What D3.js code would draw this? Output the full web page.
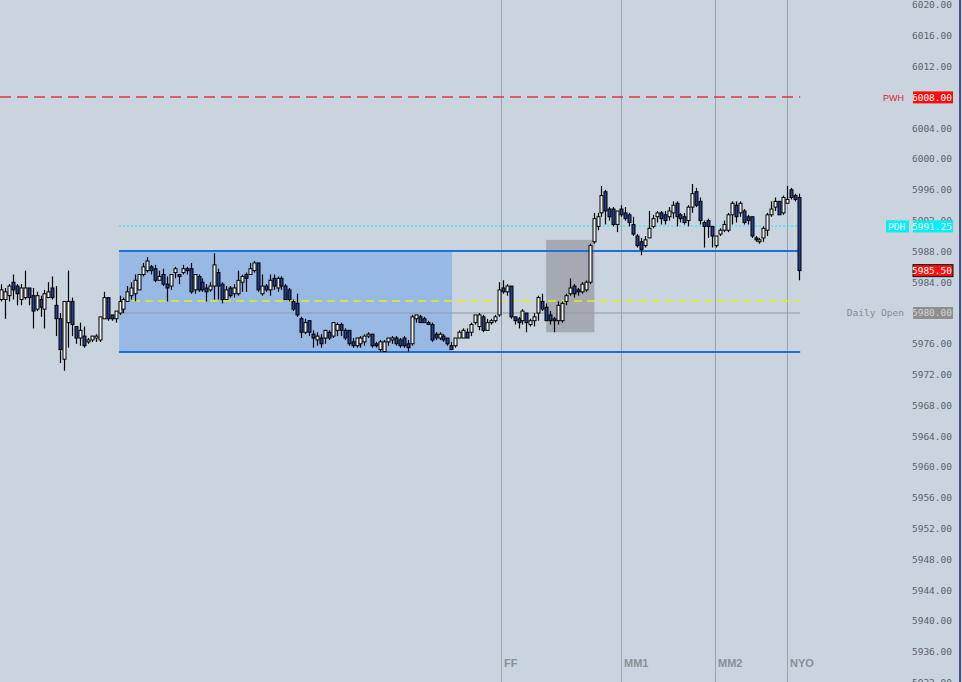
<!DOCTYPE html>
<html><head><meta charset="utf-8">
<script src="https://cdn.jsdelivr.net/npm/d3@7"></script>
<style>html,body{margin:0;padding:0;background:#c9d4de;overflow:hidden}svg{display:block}</style>
</head><body><svg id="chart" width="962" height="682"></svg>
<script>
// ---- data ----
// [open, high, low, close]
const candles = [
[5981.75,5983.75,5981.5,5983.0],[5981.75,5983.25,5979.25,5982.75],[5982.25,5983.75,5981.5,5983.5],[5984.0,5985.0,5981.75,5983.0],
[5983.5,5983.75,5981.0,5982.5],[5981.75,5983.75,5981.0,5983.25],[5982.0,5985.5,5981.75,5983.25],[5983.25,5983.25,5981.0,5982.0],
[5982.25,5983.25,5978.0,5980.25],[5980.5,5982.75,5980.25,5982.25],[5981.75,5982.25,5979.5,5980.75],[5980.5,5983.0,5978.0,5982.5],
[5982.0,5984.0,5982.0,5982.75],[5983.25,5984.75,5981.75,5982.0],[5981.0,5983.5,5977.0,5979.25],[5979.25,5980.0,5973.5,5975.25],
[5974.0,5981.5,5972.5,5981.5],[5978.75,5985.5,5975.5,5981.5],[5981.5,5982.0,5977.0,5978.5],[5978.25,5978.25,5976.0,5976.75],
[5976.75,5978.75,5975.75,5977.75],[5977.0,5978.25,5975.5,5975.75],[5976.25,5976.75,5976.0,5976.5],[5976.5,5977.0,5976.25,5977.0],
[5976.75,5977.25,5976.25,5977.0],[5976.5,5979.5,5976.25,5979.5],[5979.25,5982.75,5979.25,5982.0],[5982.0,5982.0,5979.0,5979.25],
[5979.75,5979.75,5979.0,5979.25],[5979.25,5980.25,5978.75,5980.25],[5980.0,5982.25,5979.75,5981.5],[5980.5,5982.0,5980.0,5981.75],
[5981.5,5983.5,5981.5,5982.75],[5982.25,5984.0,5981.75,5983.25],[5982.5,5985.0,5981.5,5984.25],[5983.0,5985.0,5983.0,5985.0],
[5985.0,5986.5,5984.75,5986.0],[5985.5,5987.25,5985.25,5986.75],[5986.0,5986.25,5985.0,5985.5],[5985.75,5986.25,5984.0,5984.25],
[5984.25,5985.5,5984.25,5984.75],[5985.0,5985.75,5983.5,5983.75],[5983.75,5984.75,5981.5,5983.25],[5983.5,5985.0,5983.0,5985.0],
[5985.25,5986.0,5984.5,5985.75],[5985.0,5985.0,5983.75,5984.75],[5985.25,5986.25,5985.0,5985.75],[5985.75,5986.0,5985.0,5985.5],
[5985.75,5986.5,5982.5,5982.75],[5983.0,5985.0,5982.5,5985.0],[5984.75,5985.0,5982.75,5983.0],[5984.0,5984.5,5982.75,5983.0],
[5983.25,5983.75,5981.5,5982.75],[5983.0,5984.0,5982.75,5983.5],[5983.5,5987.75,5981.75,5986.25],[5985.25,5985.75,5981.75,5983.5],
[5983.75,5984.0,5981.25,5981.75],[5981.75,5983.5,5981.75,5983.0],[5983.25,5983.5,5982.0,5982.25],[5982.5,5983.75,5982.0,5983.25],
[5982.5,5985.5,5982.25,5984.25],[5984.0,5985.0,5982.75,5984.75],[5985.0,5985.25,5982.75,5984.5],[5985.0,5986.5,5985.0,5985.75],
[5985.5,5986.75,5985.25,5986.5],[5986.5,5986.5,5982.75,5983.0],[5982.5,5985.0,5982.25,5983.5],[5983.5,5983.75,5982.75,5983.0],
[5983.0,5985.0,5982.25,5984.25],[5984.5,5985.0,5983.0,5983.5],[5983.25,5984.75,5982.75,5984.5],[5984.5,5984.75,5983.0,5983.5],
[5983.5,5983.75,5981.75,5981.75],[5983.0,5983.25,5981.5,5981.75],[5981.5,5981.75,5980.25,5980.5],[5981.25,5982.5,5979.5,5979.75],
[5979.25,5979.5,5976.75,5977.5],[5977.5,5979.25,5977.25,5978.75],[5979.0,5979.0,5977.0,5977.5],[5977.25,5977.75,5975.5,5976.75],
[5976.5,5977.5,5975.75,5977.0],[5976.75,5977.25,5975.5,5976.0],[5976.75,5977.75,5976.0,5977.75],[5977.5,5977.75,5976.5,5976.75],
[5977.0,5978.75,5976.75,5978.75],[5977.75,5978.75,5977.0,5978.5],[5978.5,5978.75,5977.0,5977.75],[5977.75,5978.0,5976.5,5976.75],
[5977.75,5977.75,5975.75,5976.0],[5976.25,5976.75,5975.5,5975.75],[5975.75,5976.75,5975.5,5976.75],[5976.0,5977.0,5975.5,5976.75],
[5976.25,5977.25,5975.75,5977.0],[5977.0,5977.5,5976.75,5977.25],[5977.25,5977.25,5975.5,5975.75],[5976.0,5976.25,5975.5,5975.75],
[5975.25,5976.5,5975.0,5976.25],[5975.0,5976.5,5975.0,5976.25],[5976.25,5976.75,5975.75,5976.75],[5976.5,5977.0,5976.0,5976.75],
[5976.75,5977.0,5975.75,5976.0],[5976.5,5976.75,5975.5,5975.75],[5976.75,5977.0,5975.5,5975.75],[5976.0,5976.5,5975.0,5975.5],
[5976.0,5979.75,5975.75,5979.5],[5979.25,5979.75,5978.75,5979.75],[5979.5,5979.75,5978.75,5978.75],[5979.25,5979.5,5978.75,5978.75],
[5978.75,5979.0,5978.5,5978.5],[5978.5,5978.75,5976.25,5976.5],[5977.25,5977.5,5976.5,5976.75],[5976.75,5977.5,5976.5,5977.25],
[5977.0,5977.25,5976.25,5976.5],[5976.75,5976.75,5975.75,5976.0],[5975.75,5976.25,5975.25,5975.25],[5975.75,5976.75,5975.5,5976.75],
[5976.75,5977.75,5976.75,5977.5],[5976.75,5978.0,5976.75,5977.75],[5977.5,5978.0,5976.75,5976.75],[5977.5,5978.75,5977.0,5978.5],
[5978.75,5979.75,5978.5,5979.75],[5978.25,5980.0,5977.75,5979.75],[5979.5,5979.75,5977.5,5977.75],[5977.75,5979.25,5977.75,5978.75],
[5978.75,5979.25,5978.5,5979.0],[5979.0,5979.75,5978.75,5979.5],[5979.75,5984.0,5979.5,5983.0],[5983.25,5984.25,5982.5,5982.75],
[5982.75,5983.75,5982.25,5983.5],[5983.5,5983.5,5979.25,5979.5],[5979.5,5979.5,5978.5,5979.0],[5979.25,5979.5,5978.0,5978.75],
[5979.0,5980.5,5978.5,5980.25],[5980.0,5980.0,5977.5,5978.75],[5978.5,5979.25,5978.25,5979.0],[5979.0,5980.0,5978.25,5979.5],
[5980.0,5982.25,5979.0,5982.0],[5981.5,5982.5,5980.25,5980.5],[5980.75,5981.25,5979.0,5979.0],[5979.75,5980.25,5978.5,5979.0],
[5979.25,5979.5,5977.5,5979.0],[5979.0,5981.5,5978.5,5981.0],[5979.0,5981.5,5978.75,5981.25],[5981.5,5982.5,5981.0,5982.25],
[5982.5,5984.5,5982.25,5983.25],[5983.5,5983.75,5982.0,5982.5],[5983.0,5983.25,5982.25,5982.75],[5982.75,5984.0,5982.5,5983.75],
[5983.0,5984.25,5982.75,5984.0],[5984.0,5989.0,5983.75,5988.75],[5989.25,5993.0,5989.0,5992.25],[5991.25,5993.0,5990.75,5992.5],
[5993.0,5996.5,5992.5,5995.25],[5995.75,5996.0,5991.5,5993.25],[5993.5,5993.75,5992.0,5992.5],[5993.5,5993.75,5991.25,5991.5],
[5991.5,5993.25,5990.5,5993.25],[5993.5,5994.0,5992.5,5992.75],[5993.0,5993.75,5992.0,5992.25],[5992.75,5993.0,5991.25,5991.75],
[5991.5,5992.5,5990.0,5990.25],[5990.0,5990.25,5988.5,5988.75],[5989.25,5989.75,5987.5,5988.25],[5988.75,5990.0,5988.5,5989.5],
[5989.75,5993.25,5989.75,5991.0],[5991.25,5992.75,5991.0,5992.25],[5992.5,5993.25,5991.75,5993.0],[5993.0,5993.25,5991.5,5992.25],
[5992.75,5993.25,5991.5,5992.0],[5992.5,5993.75,5992.0,5993.25],[5993.0,5994.5,5992.25,5994.0],[5994.25,5994.5,5991.25,5992.5],
[5992.75,5993.0,5991.75,5992.25],[5992.5,5993.0,5991.5,5991.75],[5992.0,5994.0,5991.25,5993.75],[5993.75,5996.75,5993.0,5995.5],
[5995.75,5996.25,5993.75,5994.0],[5994.5,5995.0,5991.5,5992.0],[5991.75,5992.0,5988.5,5991.25],[5992.0,5992.25,5989.75,5991.25],
[5991.25,5991.25,5988.5,5990.0],[5988.75,5990.0,5988.5,5990.0],[5990.25,5991.0,5990.0,5990.75],[5990.75,5992.0,5990.5,5991.5],
[5990.75,5993.0,5990.5,5992.75],[5992.75,5994.5,5991.5,5994.25],[5994.0,5994.5,5991.75,5992.5],[5993.0,5994.5,5992.5,5994.25],
[5993.25,5993.5,5991.5,5991.75],[5992.5,5992.75,5991.5,5992.0],[5992.5,5992.5,5989.75,5990.0],[5989.75,5990.0,5989.25,5989.5],
[5989.25,5989.75,5989.0,5989.5],[5989.75,5991.25,5989.25,5991.0],[5990.75,5993.0,5990.0,5992.75],[5992.75,5994.5,5992.5,5993.5],
[5993.75,5995.0,5993.25,5994.5],[5994.5,5994.5,5992.75,5992.75],[5993.0,5995.25,5992.75,5995.0],[5994.25,5996.5,5994.25,5994.75],
[5996.0,5996.25,5994.75,5995.0],[5995.25,5995.5,5994.5,5994.75],[5995.0,5995.5,5984.25,5985.5]
];
const priceTicks = [5932,5936,5940,5944,5948,5952,5956,5960,5964,5968,5972,5976,5980,5984,5988,5992,5996,6000,6004,6008,6012,6016,6020];
const sessionNames = ["FF","MM1","MM2","NYO"];
const sessionBars = [126.6,157.0,180.8,199.0];
const rangeBox = {start:29.9, end:114.2, high:5988.0, low:5975.0};
const fvgBox = {start:138.0, end:150.2, high:5989.5, low:5977.5};
const pwh = 6008.00, pdh = 5991.25, dailyOpen = 5980.00, midLevel = 5981.5, lastPrice = 5985.50;
const levelsEnd = 202.3;

// ---- scales ----
const svg = d3.select("#chart");
const x = d3.scaleLinear().domain([0, candles.length-1]).range([1, 799]);
const y = d3.scaleLinear().domain([5932, 6020]).range([682.6, 5]);
const mono = "'DejaVu Sans Mono', monospace";

svg.append("rect").attr("width",962).attr("height",682).attr("fill","#c9d4de");

// range box
svg.append("rect").attr("x",x(rangeBox.start)).attr("y",y(rangeBox.high))
  .attr("width",x(rangeBox.end)-x(rangeBox.start)).attr("height",y(rangeBox.low)-y(rangeBox.high))
  .attr("fill","#97b9e4");
// fvg grey box
svg.append("rect").attr("x",x(fvgBox.start)).attr("y",y(fvgBox.high))
  .attr("width",x(fvgBox.end)-x(fvgBox.start)).attr("height",y(fvgBox.low)-y(fvgBox.high))
  .attr("fill","#a5aab2");

// session vertical lines
svg.selectAll("line.sess").data(sessionBars).enter().append("line")
  .attr("x1",d=>Math.round(x(d))+0.5).attr("x2",d=>Math.round(x(d))+0.5).attr("y1",0).attr("y2",682)
  .attr("stroke","#9aa4ae").attr("stroke-width",1);
svg.selectAll("text.sess").data(sessionNames).enter().append("text")
  .attr("x",(d,i)=>Math.round(x(sessionBars[i]))+3).attr("y",667)
  .attr("font-family","'Liberation Sans', Arial, sans-serif").attr("font-size",11).attr("font-weight","bold")
  .attr("fill","#8a9098").text(d=>d);

// horizontal levels
function hline(v, x0, stroke, w, dash){
  svg.append("line").attr("x1",x0).attr("x2",x(levelsEnd)).attr("y1",Math.round(y(v))).attr("y2",Math.round(y(v)))
    .attr("stroke",stroke).attr("stroke-width",w).attr("stroke-dasharray",dash||null);
}
hline(pwh, 0, "#e0343e", 1.4, "11,6");
hline(dailyOpen, x(rangeBox.start), "#8f99a4", 1);
hline(pdh, x(rangeBox.start), "#00f2fa", 1.2, "2,2");
hline(midLevel, x(rangeBox.start), "#eaec10", 1.6, "8,5");
hline(rangeBox.high, x(rangeBox.start), "#1f6fd8", 2);
hline(rangeBox.low, x(rangeBox.start), "#1f6fd8", 2);

// candles
const g = svg.append("g");
g.selectAll("line.wick").data(candles).enter().append("line")
  .attr("x1",(d,i)=>Math.round(x(i))+0.5).attr("x2",(d,i)=>Math.round(x(i))+0.5)
  .attr("y1",d=>y(d[1])).attr("y2",d=>y(d[2])).attr("stroke","#000").attr("stroke-width",1.2);
g.selectAll("rect.body").data(candles).enter().append("rect")
  .attr("x",(d,i)=>Math.round(x(i))-1)
  .attr("y",d=>y(Math.max(d[0],d[3])))
  .attr("width",3)
  .attr("height",d=>Math.max(1, Math.abs(y(d[0])-y(d[3]))))
  .attr("fill",d=>d[3]>=d[0]?"#eceef0":"#24408f")
  .attr("stroke","#000").attr("stroke-width",1);

// right axis labels
svg.selectAll("text.tick").data(priceTicks).enter().append("text")
  .attr("x",952).attr("y",d=>y(d)).attr("dy","0.35em").attr("text-anchor","end")
  .attr("font-family",mono).attr("font-size",9.5).attr("fill","#5b6470")
  .text(d=>d.toFixed(2));

function tag(v, fill, textFill, stroke){
  svg.append("rect").attr("x",913).attr("y",y(v)-6).attr("width",40).attr("height",12)
    .attr("fill",fill).attr("stroke",stroke||"none").attr("stroke-width",stroke?1:0);
  svg.append("text").attr("x",952).attr("y",y(v)).attr("dy","0.35em").attr("text-anchor","end")
    .attr("font-family",mono).attr("font-size",9.5).attr("fill",textFill).text(v.toFixed(2));
}
// PWH
svg.append("text").attr("x",904).attr("y",y(pwh)).attr("dy","0.35em").attr("text-anchor","end")
  .attr("font-family","'Liberation Sans', Arial, sans-serif").attr("font-size",9).attr("fill","#e0202a").text("PWH");
tag(pwh, "#ff0a0a", "#ffffff");
// PDH
svg.append("rect").attr("x",886).attr("y",y(pdh)-6).attr("width",23).attr("height",12).attr("fill","#00f0f8");
svg.append("text").attr("x",888).attr("y",y(pdh)).attr("dy","0.35em")
  .attr("font-family",mono).attr("font-size",9.5).attr("fill","#ffffff").text("PDH");
tag(pdh, "#00f0f8", "#ffffff");
// last price
tag(lastPrice, "#ff1010", "#ffffff", "#111");
// daily open
svg.append("text").attr("x",904).attr("y",y(dailyOpen)).attr("dy","0.35em").attr("text-anchor","end")
  .attr("font-family",mono).attr("font-size",9.5).attr("fill","#858b92").text("Daily Open");
tag(dailyOpen, "#8e8e8e", "#cfd3d6");

// right edge
svg.append("line").attr("x1",960).attr("x2",960).attr("y1",0).attr("y2",682).attr("stroke","#1c2566").attr("stroke-width",1.5);
</script></body></html>
